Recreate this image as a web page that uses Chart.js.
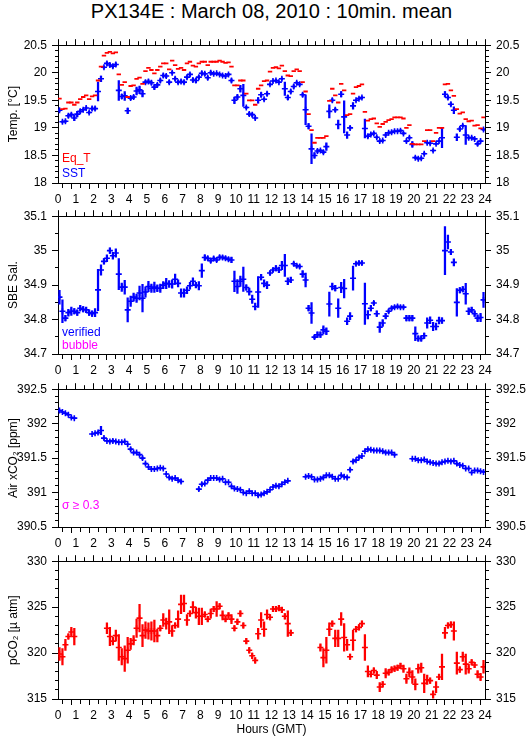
<!DOCTYPE html>
<html>
<head>
<meta charset="utf-8">
<script src="https://cdn.jsdelivr.net/npm/chart.js@4.4.1/dist/chart.umd.min.js"></script>
<style>
  body { margin: 0; background: #fff; width: 529px; height: 739px; overflow: hidden; position: relative;
         font-family: "Liberation Sans", Arial, sans-serif; }
  #title { position: absolute; left: 58px; width: 427px; top: 0; text-align: center; font-size: 20px; line-height: 22px; }
  .box { position: absolute; left: 0; width: 529px; }
</style>
</head>
<body>
<div id="title">PX134E : March 08, 2010 : 10min. mean</div>
<div class="box" style="top:33px;height:178px"><canvas id="c1"></canvas></div>
<div class="box" style="top:204px;height:178px"><canvas id="c2"></canvas></div>
<div class="box" style="top:377px;height:178px"><canvas id="c3"></canvas></div>
<div class="box" style="top:549px;height:190px"><canvas id="c4"></canvas></div>
<script>
// 10 minute bins, centred
const hours = Array.from({length: 144}, (_, i) => i / 6 + 1 / 12);

const eqT = [19.53,19.34,19.35,19.46,19.46,19.42,19.46,19.52,19.56,19.59,
  19.52,19.57,19.59,19.86,20.11,20.31,20.36,20.38,20.35,20.37,
  19.97,19.78,19.83,19.56,19.76,19.77,19.89,19.91,19.80,20.03,
  20.09,20.05,19.99,20.05,20.11,20.17,20.17,20.06,20.22,20.14,
  20.07,20.09,20.05,20.17,20.20,20.13,20.11,20.17,20.20,20.20,
  20.14,20.20,20.20,20.20,20.22,20.20,20.18,20.19,20.11,19.77,
  19.77,19.86,19.86,19.62,19.50,19.50,19.42,19.71,19.77,19.85,
  19.86,20.02,20.09,20.10,20.08,20.13,20.03,19.95,19.94,20.03,
  20.06,20.03,19.83,19.66,19.25,18.96,18.73,18.82,18.82,18.82,
  18.85,19.49,19.71,19.59,19.46,19.80,19.68,19.23,19.25,19.62,
  19.74,19.76,19.79,19.29,19.13,19.16,19.17,19.08,19.02,19.07,
  19.11,19.14,19.16,19.19,19.19,19.19,19.17,19.00,19.05,18.71,
  18.70,18.70,18.70,18.76,18.96,18.96,18.76,18.91,19.00,19.00,
  19.79,19.80,19.68,19.58,19.34,19.26,19.28,19.16,19.12,19.13,
  19.04,19.05,18.99,19.19];

const sst = [19.32,19.11,19.12,19.22,19.24,19.18,19.25,19.30,19.33,19.36,
  19.28,19.35,19.35,19.66,19.89,20.10,20.17,20.14,20.12,20.15,
  19.68,19.57,19.58,19.31,19.54,19.56,19.67,19.69,19.62,19.83,
  19.84,19.82,19.74,19.78,19.86,19.95,19.94,19.83,20.00,19.89,
  19.83,19.84,19.83,19.92,19.97,19.87,19.86,19.92,19.99,19.98,
  19.91,20.00,19.98,19.99,19.97,19.95,19.94,19.97,19.86,19.50,
  19.56,19.71,19.59,19.37,19.25,19.24,19.18,19.50,19.60,19.52,
  19.62,19.79,19.85,19.86,19.83,19.89,19.71,19.55,19.66,19.75,
  19.82,19.79,19.60,19.33,19.03,18.62,18.50,18.58,18.59,18.56,
  18.66,19.30,19.50,19.33,19.06,19.61,19.20,18.87,19.00,19.40,
  19.50,19.53,19.55,18.99,18.85,18.88,18.90,18.83,18.76,18.77,
  18.87,18.91,18.92,18.94,18.94,18.95,18.90,18.76,18.82,18.70,
  18.46,18.44,18.45,18.53,18.73,18.72,18.59,18.71,18.76,18.82,
  19.61,19.55,19.43,19.32,18.83,18.98,19.04,18.87,18.82,18.82,
  18.80,18.71,18.76,18.97];

const sstSd = [.02,.02,.02,.03,.03,.05,.05,.03,.02,.02,
  .02,.03,.03,.17,.05,.02,.03,.03,.03,.03,
  .18,.04,.08,.05,.03,.03,.07,.07,.06,.03,
  .03,.03,.04,.03,.03,.03,.03,.03,.02,.03,
  .03,.03,.03,.03,.03,.03,.04,.03,.03,.03,
  .03,.03,.02,.02,.02,.02,.02,.02,.03,.06,
  .04,.06,.20,.02,.03,.03,.02,.05,.04,.02,
  .03,.02,.02,.02,.02,.02,.12,.04,.03,.03,
  .02,.02,.03,.27,.05,.27,.05,.03,.02,.03,
  .07,.12,.03,.03,.08,.05,.29,.06,.03,.06,
  .02,.02,.02,.17,.03,.02,.02,.02,.02,.02,
  .02,.02,.02,.02,.02,.02,.02,.02,.02,.05,
  .02,.02,.02,.02,.02,.02,.02,.02,.02,.18,
  .05,.03,.03,.06,.06,.03,.02,.17,.02,.02,
  .02,.03,.02,.02];

const sal = [34.865,34.824,34.804,34.820,34.824,34.824,34.820,34.833,34.830,34.828,
  34.820,34.817,34.820,34.886,34.944,34.969,34.978,35.000,34.985,34.993,
  34.932,34.894,34.894,34.828,34.853,34.865,34.862,34.877,34.862,34.880,
  34.896,34.891,34.894,34.891,34.891,34.900,34.905,34.903,34.903,34.917,
  34.905,34.877,34.877,34.885,34.898,34.911,34.900,34.898,34.942,34.980,
  34.978,34.971,34.977,34.973,34.981,34.980,34.978,34.975,34.973,34.911,
  34.896,34.911,34.917,34.893,34.881,34.859,34.838,34.880,34.923,34.905,
  34.900,34.935,34.944,34.949,34.944,34.957,34.957,34.911,34.915,34.962,
  34.956,34.954,34.932,34.915,34.833,34.819,34.749,34.756,34.756,34.770,
  34.766,34.845,34.896,34.891,34.833,34.893,34.890,34.795,34.810,34.920,
  34.962,34.964,34.964,34.846,34.814,34.833,34.848,34.817,34.778,34.790,
  34.810,34.824,34.833,34.836,34.838,34.836,34.836,34.804,34.804,34.804,
  34.759,34.745,34.745,34.753,34.790,34.798,34.780,34.780,34.797,34.797,
  35.000,35.025,34.996,34.966,34.850,34.885,34.888,34.875,34.824,34.828,
  34.817,34.804,34.806,34.857];

const salSd = [.02,.033,.008,.01,.012,.008,.008,.008,.008,.008,
  .008,.008,.012,.06,.015,.008,.01,.008,.01,.012,
  .045,.012,.02,.035,.015,.012,.012,.02,.04,.015,
  .015,.012,.015,.01,.012,.01,.015,.01,.012,.015,
  .01,.012,.012,.01,.01,.01,.008,.012,.02,.008,
  .005,.005,.005,.005,.005,.005,.005,.005,.008,.03,
  .02,.015,.035,.008,.01,.012,.01,.045,.008,.01,
  .01,.005,.005,.008,.008,.012,.032,.01,.008,.005,
  .005,.005,.01,.02,.008,.03,.005,.008,.008,.012,
  .01,.035,.01,.008,.027,.015,.027,.01,.01,.035,
  .005,.005,.005,.06,.012,.008,.005,.008,.015,.01,
  .008,.005,.005,.004,.004,.004,.004,.008,.008,.008,
  .02,.008,.008,.008,.015,.01,.012,.01,.01,.008,
  .07,.02,.008,.01,.04,.008,.008,.03,.01,.008,
  .008,.01,.012,.022];

const xco2 = [392.19,392.17,392.15,392.13,392.09,392.08,
  null,null,null,null,null,
  391.85,391.86,391.87,391.90,391.79,391.75,391.74,391.75,391.74,391.73,
  391.73,391.74,391.70,391.63,391.58,391.58,391.55,391.50,391.42,391.37,
  391.34,391.34,391.35,391.36,391.35,391.27,391.22,391.20,391.21,391.18,391.16,
  null,null,null,null,null,
  391.05,391.12,391.13,391.18,391.21,391.21,391.21,391.19,391.20,391.15,
  391.15,391.09,391.06,391.05,391.04,391.00,390.99,391.02,390.99,390.99,
  390.96,390.97,390.99,391.01,391.04,391.08,391.10,391.09,391.12,391.15,391.17,
  null,null,null,null,null,
  391.23,391.24,391.23,391.19,391.19,391.20,391.22,391.25,391.25,391.23,
  391.20,391.20,391.25,391.23,391.22,391.33,391.45,391.47,391.51,391.53,
  391.60,391.63,391.62,391.61,391.61,391.61,391.60,391.58,391.58,391.58,391.55,
  null,null,null,null,null,
  391.49,391.49,391.47,391.47,391.48,391.45,391.44,391.43,391.42,391.42,
  391.44,391.45,391.46,391.45,391.46,391.42,391.40,391.39,391.35,391.35,
  391.29,391.32,391.32,391.31,391.30];

const xco2Sd = [.01,.01,.01,.01,.01,.01,
  0,0,0,0,0,
  .01,.01,.02,.06,.02,.01,.01,.02,.01,.01,
  .01,.01,.01,.02,.01,.01,.01,.02,.01,.01,
  .01,.01,.01,.01,.01,.01,.01,.01,.01,.01,.02,
  0,0,0,0,0,
  .02,.02,.01,.01,.01,.01,.01,.01,.01,.01,
  .01,.01,.01,.01,.01,.01,.01,.01,.01,.01,
  .02,.01,.01,.01,.01,.01,.01,.01,.01,.01,.01,
  0,0,0,0,0,
  .01,.01,.01,.01,.01,.01,.01,.01,.01,.01,
  .01,.01,.01,.01,.01,.02,.02,.01,.01,.01,
  .01,.01,.01,.01,.01,.01,.01,.01,.01,.01,.01,
  0,0,0,0,0,
  .01,.01,.01,.01,.01,.01,.01,.01,.01,.01,
  .01,.01,.01,.01,.01,.01,.01,.01,.01,.01,
  .01,.01,.01,.01,.01];

const pco2 = [319.9,319.6,320.9,321.8,322.3,321.8,
  null,null,null,null,null,null,null,null,null,null,
  322.7,321.8,321.3,321.9,320.6,319.6,319.4,320.3,321.0,321.4,
  322.7,323.8,321.9,322.5,322.4,322.4,322.4,321.9,322.7,323.6,
  323.2,323.4,322.4,323.0,323.7,325.3,325.4,323.6,324.3,325.0,
  324.4,324.0,324.0,324.2,323.7,324.3,324.8,324.8,325.1,324.1,
  323.7,324.1,323.7,322.7,323.4,324.3,323.0,321.3,320.3,319.7,
  319.2,322.1,323.6,322.6,324.2,323.9,324.8,324.8,324.9,324.7,
  324.0,323.2,322.2,
  null,null,null,null,null,null,null,null,null,
  320.6,319.5,320.3,322.6,323.2,321.6,321.6,323.7,321.7,320.9,
  319.6,321.4,322.6,322.8,323.2,320.6,318.0,317.7,318.1,317.6,
  316.3,316.6,317.8,317.9,318.2,318.3,318.4,318.6,318.3,317.2,
  317.9,317.4,316.6,318.3,318.4,316.7,317.1,317.0,315.5,316.3,
  317.4,318.5,322.2,323.0,323.1,322.4,318.9,318.2,319.6,318.8,
  318.3,319.0,318.7,317.7,317.4,318.5];

const pco2Sd = [.7,.9,.6,.3,.5,.9,
  0,0,0,0,0,0,0,0,0,0,
  .6,1.0,.4,.6,1.4,.9,1.4,1.4,.6,.5,
  1.0,1.5,1.2,.9,.9,1.0,1.2,.7,.3,.7,
  .6,1.3,.6,.3,.9,1.0,.9,.6,.3,.6,
  .6,.9,.9,.3,.3,.5,.3,.8,.3,.5,
  .3,.3,.5,.3,.3,.3,.3,.3,.3,.3,
  .3,.6,.8,.8,.5,.3,.3,.3,.3,.3,
  .3,1.4,.3,
  0,0,0,0,0,0,0,0,0,
  .4,1.0,1.4,.7,.3,.9,.9,.7,1.5,.6,
  .3,1.1,.3,.3,.3,1.4,.6,.3,.3,.4,
  .5,.3,.5,.3,.3,.3,.3,.3,.4,.5,
  .5,.7,.6,.5,.5,1.0,.5,.3,.4,.6,
  .3,1.4,.6,.3,.3,1.0,1.2,.3,.5,1.1,
  .5,.3,.3,.4,.4,.7];

const RED = '#ff0000', BLUE = '#0000ff', MAGENTA = '#ff00ff';

Chart.defaults.font.family = '"Liberation Sans", Arial, sans-serif';
Chart.defaults.font.size = 12;
Chart.defaults.color = '#000';

function pts(vals) {
  return hours.map((h, i) => vals[i] == null ? null : {x: h, y: vals[i]}).filter(Boolean);
}
function errs(vals, sd) {
  return hours.map((h, i) => vals[i] == null ? null : {x: h, y: [vals[i] - sd[i], vals[i] + sd[i]]}).filter(Boolean);
}
function isMajor(v, step) {
  return Math.abs(v / step - Math.round(v / step)) < 1e-6;
}

function crosses(vals, color) {
  return {type: 'scatter', data: pts(vals), pointStyle: 'cross', pointRadius: 3,
    pointBorderWidth: 1.6, pointBorderColor: color, pointBackgroundColor: color, pointHoverRadius: 3};
}
function dashes(vals, color) {
  return {type: 'scatter', data: pts(vals), pointStyle: 'line', pointRadius: 2.2,
    pointBorderWidth: 1.8, pointBorderColor: color, pointBackgroundColor: color, pointHoverRadius: 2.2};
}
function bars(vals, sd, color) {
  return {type: 'bar', data: errs(vals, sd), backgroundColor: color, borderWidth: 0,
    barThickness: 1.6, grouped: false};
}

// minor ticks are shortened with a dash pattern
function tickDash(step, full, short, fromOutside) {
  return c => {
    if (!c.tick || isMajor(c.tick.value, step)) return [];
    return fromOutside ? [0, full - short, short, 20] : [short, 20];
  };
}

function xAxis(pos, h, title) {
  const top = pos === 'top';
  return {
    type: 'linear', position: pos, min: 0, max: 24, offset: false,
    afterFit: s => { s.height = h; },
    ticks: {display: !top, stepSize: 0.5, autoSkip: false, maxRotation: 0, padding: 3,
      callback: v => isMajor(v, 1) ? String(Math.round(v)) : ''},
    grid: {drawOnChartArea: false, tickLength: 6, tickColor: '#000', tickWidth: 1,
      tickBorderDash: tickDash(1, 6, 4, top)},
    border: {color: '#000', width: 1},
    title: title ? {display: true, text: title, padding: {top: 0, bottom: 2}} : {display: false}
  };
}

function yAxis(pos, min, max, minor, major, w, title) {
  const left = pos === 'left';
  return {
    type: 'linear', position: pos, min: min, max: max, display: true,
    afterFit: s => { s.width = w; },
    ticks: {stepSize: minor, autoSkip: false, padding: 5,
      callback: v => isMajor(v, major) ? String(+v.toFixed(2)) : ''},
    grid: {drawOnChartArea: false, tickLength: 6, tickColor: '#000', tickWidth: 1,
      tickBorderDash: tickDash(major, 6, 3, left)},
    border: {color: '#000', width: 1},
    title: title ? {display: true, text: title, padding: {top: 6, bottom: 0}} : {display: false}
  };
}

const notes = {
  id: 'notes',
  afterDraw(chart, args, opts) {
    const {ctx, chartArea} = chart;
    ctx.save();
    ctx.font = '12px "Liberation Sans", Arial, sans-serif';
    ctx.textBaseline = 'alphabetic';
    ctx.textAlign = 'left';
    (opts.items || []).forEach(it => {
      ctx.fillStyle = it.color;
      ctx.fillText(it.text, chartArea.left + 4, chartArea.bottom - it.up);
    });
    ctx.restore();
  }
};

function panel(id, datasets, y, bottomH, xTitle, items) {
  const ys = {
    x: xAxis('bottom', bottomH, xTitle),
    xTop: xAxis('top', 12),
    y: yAxis('left', y.min, y.max, y.minor, y.major, 58, y.title),
    yRight: yAxis('right', y.min, y.max, y.minor, y.major, 44)
  };
  new Chart(document.getElementById(id), {
    type: 'scatter',
    data: {datasets: datasets},
    options: {
      responsive: true, maintainAspectRatio: false, animation: false,
      layout: {padding: 0},
      events: [],
      plugins: {legend: {display: false}, tooltip: {enabled: false}, notes: {items: items}},
      scales: ys
    },
    plugins: [notes]
  });
}

panel('c1', [dashes(eqT, RED), bars(sst, sstSd, BLUE), crosses(sst, BLUE)],
  {min: 18, max: 20.5, minor: 0.1, major: 0.5, title: 'Temp. [°C]'}, 28, null,
  [{text: 'Eq_T', color: RED, up: 21.5}, {text: 'SST', color: BLUE, up: 6.3}]);

panel('c2', [bars(sal, salSd, BLUE), crosses(sal, BLUE)],
  {min: 34.7, max: 35.1, minor: 0.05, major: 0.1, title: 'SBE Sal.'}, 28, null,
  [{text: 'verified', color: BLUE, up: 17.6}, {text: 'bubble', color: MAGENTA, up: 5}]);

panel('c3', [bars(xco2, xco2Sd, BLUE), crosses(xco2, BLUE)],
  {min: 390.5, max: 392.5, minor: 0.1, major: 0.5, title: 'Air xCO₂ [ppm]'}, 28, null,
  [{text: 'σ ≥ 0.3', color: MAGENTA, up: 18}]);

panel('c4', [bars(pco2, pco2Sd, RED), crosses(pco2, RED)],
  {min: 315, max: 330, minor: 1, major: 5, title: 'pCO₂ [µ atm]'}, 40, 'Hours (GMT)', []);
</script>
</body>
</html>
